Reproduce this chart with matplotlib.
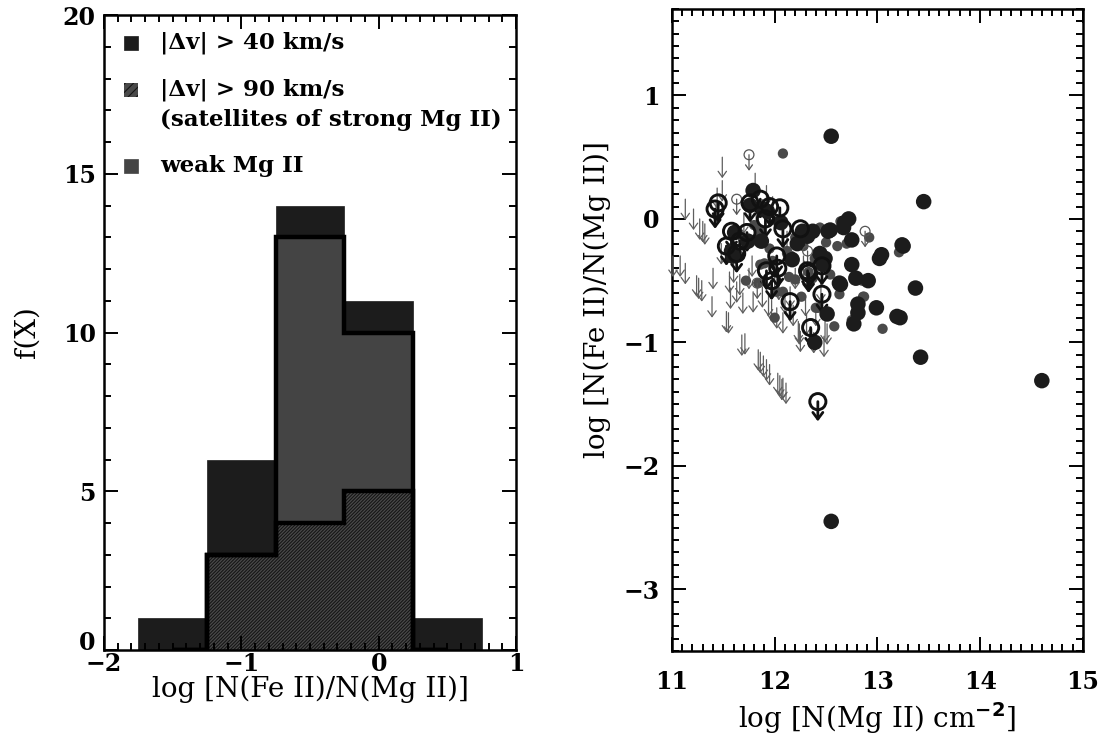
import matplotlib
matplotlib.use("Agg")
import matplotlib.pyplot as plt
import numpy as np
from matplotlib.patches import Rectangle
from matplotlib.ticker import MultipleLocator, FuncFormatter

plt.rcParams['font.family'] = ['DejaVu Serif']
plt.rcParams['font.weight'] = 'bold'
plt.rcParams['hatch.linewidth'] = 0.8

# ---------------- Histogram data (left panel) ----------------
edges_all = [-1.75, -1.25, -0.75, -0.25, 0.25, 0.75]
counts_dv40 = [1, 6, 14, 11, 1]            # |dv| > 40 km/s
edges_sub = [-1.5, -1.25, -0.75, -0.25, 0.25, 0.5]
counts_weak = [0, 3, 13, 10, 0]            # weak Mg II
counts_dv90 = [0, 3, 4, 5, 0]              # |dv| > 90 km/s (satellites)

legend_labels = ["|\u0394v| > 40 km/s",
                 "|\u0394v| > 90 km/s",
                 "(satellites of strong Mg II)",
                 "weak Mg II"]

# ---------------- Scatter data (right panel) ----------------
# big black filled circles
a_x = [12.55, 13.45, 12.55, 14.60, 13.42, 13.37, 13.25, 13.22, 12.39, 12.51, 12.81, 12.77,
       12.99, 13.19, 12.75, 12.79, 12.91, 12.64, 12.47, 12.72, 12.67, 12.75, 13.04, 13.24,
       12.27, 12.37, 12.52, 12.32, 11.79, 11.76, 11.89, 11.93, 11.61, 11.59, 11.74, 11.87,
       12.44, 12.49, 12.22, 12.17, 12.63, 12.81, 12.54, 12.68, 11.58, 12.06, 13.02]
a_y = [0.67, 0.14, -2.45, -1.31, -1.12, -0.56, -0.22, -0.80, -1.00, -0.77, -0.76, -0.85,
       -0.72, -0.79, -0.37, -0.48, -0.50, -0.53, -0.37, 0.00, -0.07, -0.17, -0.29, -0.21,
       -0.10, -0.10, -0.10, -0.14, 0.23, 0.11, 0.08, 0.06, -0.11, -0.30, -0.18, -0.18,
       -0.28, -0.32, -0.20, -0.33, -0.52, -0.69, -0.09, -0.03, -0.26, -0.03, -0.32]
# smaller gray filled circles
b_x = [12.08, 12.64, 12.44, 12.20, 11.86, 11.69, 12.61, 12.70, 11.86, 12.12, 12.20, 11.84,
       12.08, 12.26, 12.37, 12.39, 12.63, 12.86, 12.92, 13.21, 12.42, 12.58, 13.05, 12.75,
       12.46, 12.12, 12.87, 12.85, 12.40, 12.02, 11.90, 11.98, 12.16, 11.95, 11.85, 12.50,
       12.33, 11.72, 11.66, 12.28, 12.54, 11.80, 12.00, 12.14]
b_y = [0.53, -0.02, -0.07, -0.15, -0.10, -0.16, -0.22, -0.20, -0.37, -0.26, -0.49, -0.52,
       -0.59, -0.63, -0.48, -0.32, -0.61, -0.63, -0.15, -0.27, -0.72, -0.87, -0.89, -0.82,
       -0.32, -0.28, -0.63, -0.50, -0.72, -0.59, -0.36, -0.34, -0.30, -0.24, -0.15, -0.19,
       -0.43, -0.50, -0.30, -0.22, -0.45, -0.05, -0.80, -0.47]
# big open black circles (upper limits)
c_x = [11.45, 11.42, 11.76, 11.86, 11.95, 12.05, 11.58, 11.53, 11.73, 11.91, 12.08, 12.25,
       12.02, 11.92, 12.03, 12.32, 12.46, 12.46, 12.15, 12.35, 12.42, 12.33, 11.63, 11.97,
       11.66]
c_y = [0.13, 0.08, 0.13, 0.16, 0.10, 0.09, -0.10, -0.22, -0.11, 0.00, -0.08, -0.08,
       -0.30, -0.42, -0.40, -0.42, -0.38, -0.61, -0.67, -0.88, -1.48, -0.44, -0.28, -0.50,
       -0.18]
# small thin open gray circles (upper limits)
d_x = [11.75, 11.63, 12.88, 11.83, 12.32]
d_y = [0.52, 0.16, -0.10, -0.52, -0.26]
# gray arrows (upper limits, weak systems)
e_x = [11.01, 11.08, 11.13, 11.24, 11.26, 11.29, 11.39, 11.53, 11.55, 11.71, 11.68, 11.84,
       11.86, 11.89, 11.92, 11.95, 12.03, 12.05, 12.08, 12.11, 12.07, 11.13, 11.21, 11.27,
       11.30, 11.32, 11.49, 11.44, 11.49, 11.81, 11.92, 11.43, 11.56, 11.63, 11.69, 11.79,
       11.94, 11.97, 12.02, 12.08, 12.24, 12.25, 12.36, 12.51, 12.04, 12.23, 12.31, 12.49,
       12.20, 11.40, 11.57, 11.48, 12.15, 12.28, 12.45, 11.60, 11.66, 11.75, 11.78, 11.88,
       12.00, 12.10, 12.18, 12.30, 12.40, 11.62, 11.70, 11.82, 11.98, 12.12, 12.38, 12.48]
e_y = [-0.30, -0.30, -0.36, -0.46, -0.48, -0.50, -0.63, -0.75, -0.76, -0.93, -0.94, -1.06,
       -1.08, -1.11, -1.14, -1.18, -1.25, -1.27, -1.29, -1.33, -1.30, 0.16, 0.08, 0.00,
       -0.02, -0.04, 0.31, 0.25, 0.50, 0.37, 0.27, 0.14, -0.43, -0.51, -0.60, -0.59,
       -0.62, -0.66, -0.72, -0.76, -0.85, -0.91, -0.89, -0.85, -0.49, -0.83, -0.77, -0.83,
       -0.40, -0.40, -0.56, -0.20, -0.55, -0.30, -0.50, -0.35, -0.45, -0.40, -0.30, -0.55,
       -0.45, -0.60, -0.70, -0.62, -0.70, -0.20, 0.05, 0.05, 0.18, -0.10, -0.92, -0.95]

FS = 16.5
LFS = 20
TFS = 17
BLACK = '#1c1c1c'
GRAY = '#444444'

fig = plt.figure(figsize=(11.03, 7.37), dpi=100)
axL = fig.add_axes([0.0943, 0.1180, 0.3735, 0.8616])
axR = fig.add_axes([0.6092, 0.1167, 0.3726, 0.8710])

def style(ax, xpad, ypad):
    for s in ax.spines.values():
        s.set_linewidth(1.8)
    ax.tick_params(which='both', direction='in', top=True, right=True,
                   labelsize=TFS, width=1.4)
    ax.tick_params(axis='x', pad=xpad)
    ax.tick_params(axis='y', pad=ypad)
    ax.tick_params(which='major', length=10)
    ax.tick_params(which='minor', length=5)

# ---------------- Left panel ----------------
axL.stairs(counts_dv40, edges_all, fill=True, facecolor=BLACK, edgecolor=BLACK, lw=0.5)
axL.stairs(counts_weak, edges_sub, fill=True, facecolor=GRAY)
axL.stairs(counts_dv90, edges_sub, fill=True, facecolor='#4a4a4a', edgecolor='#151515',
           hatch='//////////', lw=0)
axL.stairs(counts_weak, edges_sub, color='black', lw=3.2, baseline=None)
axL.stairs(counts_dv90, edges_sub, color='black', lw=3.2, baseline=None)

axL.set_xlim(-2, 1)
axL.set_ylim(0, 20)
axL.xaxis.set_major_locator(MultipleLocator(1))
axL.xaxis.set_minor_locator(MultipleLocator(0.1))
axL.yaxis.set_major_locator(MultipleLocator(5))
axL.yaxis.set_minor_locator(MultipleLocator(1))
# the y = 0 label is drawn separately, slightly raised, as in the original
axL.yaxis.set_major_formatter(FuncFormatter(lambda v, p: '' if abs(v) < 1e-9 else f'{v:g}'))
style(axL, 1.5, 6)
axL.annotate('0', xy=(0, 0), xycoords=('axes fraction', 'data'), xytext=(-6, 5),
             textcoords='offset points', ha='right', va='center', fontsize=TFS)
axL.set_xlabel("log [N(Fe II)/N(Mg II)]", fontsize=LFS, labelpad=0)
axL.set_ylabel("f(X)", fontsize=LFS)
axL.yaxis.set_label_coords(-0.155, 0.5)

# legend drawn manually (axes fraction coordinates)
sq_w, sq_h = 0.034, 0.022
axL.add_patch(Rectangle((0.048, 0.945), sq_w, sq_h, transform=axL.transAxes,
                        facecolor=BLACK, edgecolor=BLACK, lw=0.5))
axL.add_patch(Rectangle((0.048, 0.871), sq_w, sq_h, transform=axL.transAxes,
                        facecolor='#4a4a4a', edgecolor='#151515', hatch='////', lw=0))
axL.add_patch(Rectangle((0.048, 0.752), sq_w, sq_h, transform=axL.transAxes,
                        facecolor=GRAY, edgecolor=GRAY, lw=0.5))
axL.text(0.136, 0.956, legend_labels[0], transform=axL.transAxes, fontsize=FS, va='center')
axL.text(0.136, 0.882, legend_labels[1], transform=axL.transAxes, fontsize=FS, va='center')
axL.text(0.136, 0.835, legend_labels[2], transform=axL.transAxes, fontsize=FS, va='center')
axL.text(0.136, 0.763, legend_labels[3], transform=axL.transAxes, fontsize=FS, va='center')

# ---------------- Right panel ----------------
def arrows(ax, xs, ys, length, color, lw, scale, hw, hl):
    for x, y in zip(xs, ys):
        ax.annotate('', xy=(x, y - length), xytext=(x, y),
                    arrowprops=dict(arrowstyle=f'->,head_width={hw},head_length={hl}',
                                    color=color, lw=lw, shrinkA=0, shrinkB=0,
                                    mutation_scale=scale))

arrows(axR, e_x, e_y, 0.17, '#5e5e5e', 0.9, 12, 0.25, 0.35)
axR.scatter(b_x, b_y, s=55, color='#4a4a4a', edgecolors='none', zorder=3)
axR.scatter(a_x, a_y, s=125, color=BLACK, edgecolors='none', zorder=4)
arrows(axR, d_x, d_y, 0.13, '#555555', 0.9, 10, 0.25, 0.35)
axR.scatter(d_x, d_y, s=50, facecolors='none', edgecolors='#555555', linewidths=0.9, zorder=5)
arrows(axR, c_x, c_y, 0.16, '#111111', 2.0, 12, 0.3, 0.4)
axR.scatter(c_x, c_y, s=135, facecolors='none', edgecolors='#111111', linewidths=2.1, zorder=6)

axR.set_xlim(11, 15)
axR.set_ylim(-3.5, 1.7)
axR.xaxis.set_major_locator(MultipleLocator(1))
axR.xaxis.set_minor_locator(MultipleLocator(0.1))
axR.yaxis.set_major_locator(MultipleLocator(1))
axR.yaxis.set_minor_locator(MultipleLocator(0.1))
style(axR, 14, 9)
axR.set_xlabel("log [N(Mg II) cm$^{\\mathbf{-2}}$]", fontsize=LFS, labelpad=4)
axR.set_ylabel("log [N(Fe II)/N(Mg II)]", fontsize=LFS)
axR.yaxis.set_label_coords(-0.148, 0.547)

fig.savefig("out.png", dpi=100)
